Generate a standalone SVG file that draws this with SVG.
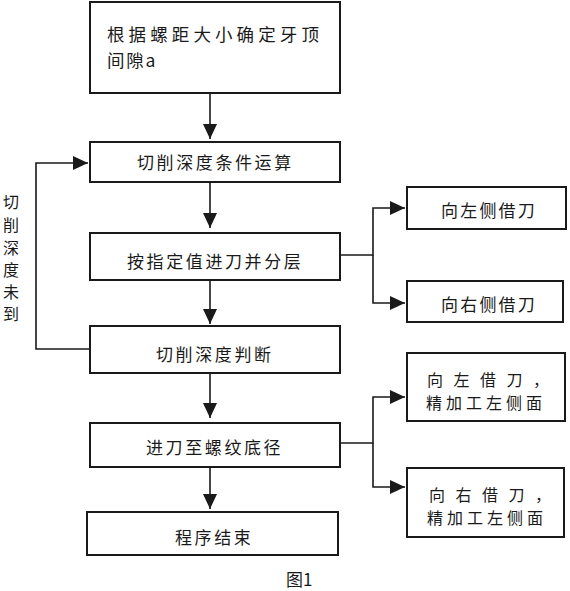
<svg xmlns="http://www.w3.org/2000/svg" width="570" height="591" viewBox="0 0 570 591">
<style>
.box{fill:#fff;stroke:#1a1a1a;stroke-width:2}
.t{font-family:"Noto Sans CJK SC","Liberation Sans",sans-serif;font-size:17px;fill:#1a1a1a;letter-spacing:2.6px}
.c{fill:none;stroke:#1a1a1a;stroke-width:1.6}
</style>
<defs>
<marker id="ah" viewBox="0 0 15 14" refX="15" refY="7" markerWidth="15" markerHeight="14" markerUnits="userSpaceOnUse" orient="auto">
<path d="M0,0 L15,7 L0,14 z" fill="#1a1a1a"/>
</marker>
</defs>
<rect width="570" height="591" fill="#fff"/>
<g id="connectors">
<path class="c" d="M210,93 V139" marker-end="url(#ah)"/>
<path class="c" d="M210,182 V228" marker-end="url(#ah)"/>
<path class="c" d="M210,280 V324" marker-end="url(#ah)"/>
<path class="c" d="M210,373 V418" marker-end="url(#ah)"/>
<path class="c" d="M210,467 V509" marker-end="url(#ah)"/>
<path class="c" d="M90,349 H36 V163 H88" marker-end="url(#ah)"/>
<path class="c" d="M340,255 H373 V208 H405" marker-end="url(#ah)"/>
<path class="c" d="M373,255 V303 H405" marker-end="url(#ah)"/>
<path class="c" d="M340,443 H373 V397 H405" marker-end="url(#ah)"/>
<path class="c" d="M373,443 V487 H405" marker-end="url(#ah)"/>
<text class="t" style="font-size:16px;letter-spacing:0" text-anchor="middle"><tspan x="11" y="208">切</tspan><tspan x="11" y="231">削</tspan><tspan x="11" y="254">深</tspan><tspan x="11" y="276">度</tspan><tspan x="11" y="298">未</tspan><tspan x="11" y="320">到</tspan></text>
</g>
<g id="n1"><rect class="box" x="90" y="2" width="250" height="91"/>
<text class="t" x="107" y="41" style="font-size:17.5px;letter-spacing:4.1px">根据螺距大小确定牙顶</text>
<text class="t" x="107" y="66.5" style="font-size:17.5px;letter-spacing:1.8px">间隙a</text></g>
<g id="n2"><rect class="box" x="90" y="142" width="250" height="40"/>
<text class="t" x="137" y="169">切削深度条件运算</text></g>
<g id="n3"><rect class="box" x="90" y="233" width="250" height="47"/>
<text class="t" x="127" y="268">按指定值进刀并分层</text></g>
<g id="n4"><rect class="box" x="90" y="326" width="250" height="47"/>
<text class="t" x="156" y="361">切削深度判断</text></g>
<g id="n5"><rect class="box" x="90" y="423" width="250" height="44"/>
<text class="t" x="146" y="454">进刀至螺纹底径</text></g>
<g id="n6"><rect class="box" x="87" y="512" width="251" height="43"/>
<text class="t" x="175" y="544">程序结束</text></g>
<g id="r1"><rect class="box" x="407" y="187" width="159" height="42"/>
<text class="t" x="441" y="217" style="letter-spacing:2.2px">向左侧借刀</text></g>
<g id="r2"><rect class="box" x="407" y="281" width="156" height="41"/>
<text class="t" x="441" y="311" style="letter-spacing:2.2px">向右侧借刀</text></g>
<g id="r3"><rect class="box" x="407" y="353" width="158" height="68"/>
<text class="t" x="427" y="386" style="font-size:16px;letter-spacing:10.5px">向左借刀，</text>
<text class="t" x="426" y="409" style="font-size:16px;letter-spacing:4px">精加工左侧面</text></g>
<g id="r4"><rect class="box" x="407" y="468" width="157" height="69"/>
<text class="t" x="429" y="501" style="font-size:16px;letter-spacing:10.5px">向右借刀，</text>
<text class="t" x="427" y="524" style="font-size:16px;letter-spacing:4px">精加工左侧面</text></g>
<g id="caption"><text class="t" x="286" y="586" style="letter-spacing:0">图1</text></g>
</svg>
